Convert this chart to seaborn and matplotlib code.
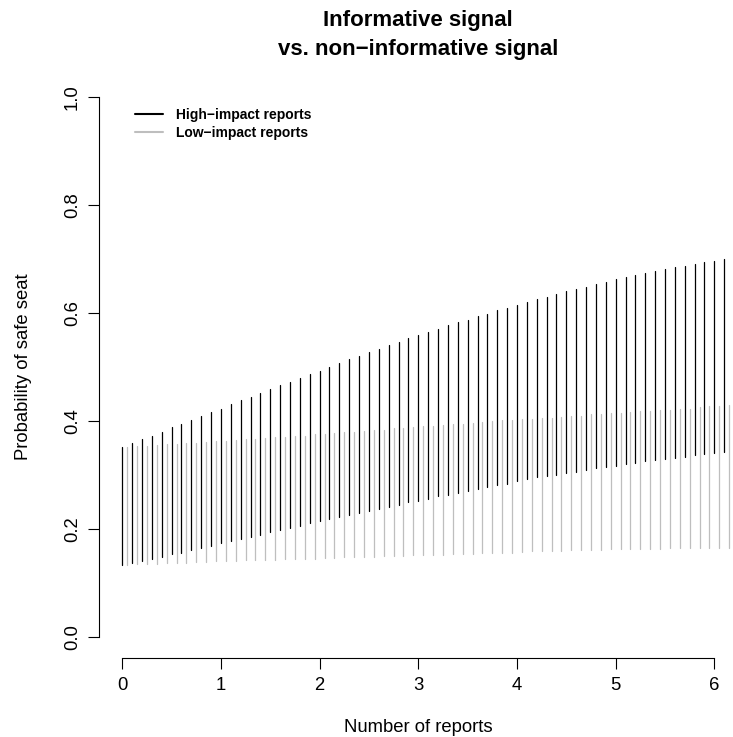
import numpy as np
import pandas as pd
import matplotlib
matplotlib.use("Agg")
import matplotlib.pyplot as plt
import seaborn as sns
from matplotlib.lines import Line2D

# ---------------- data ----------------
n_reports = [0.0, 0.1, 0.2, 0.3, 0.4, 0.5, 0.6, 0.7, 0.8, 0.9,
             1.0, 1.1, 1.2, 1.3, 1.4, 1.5, 1.6, 1.7, 1.8, 1.9,
             2.0, 2.1, 2.2, 2.3, 2.4, 2.5, 2.6, 2.7, 2.8, 2.9,
             3.0, 3.1, 3.2, 3.3, 3.4, 3.5, 3.6, 3.7, 3.8, 3.9,
             4.0, 4.1, 4.2, 4.3, 4.4, 4.5, 4.6, 4.7, 4.8, 4.9,
             5.0, 5.1, 5.2, 5.3, 5.4, 5.5, 5.6, 5.7, 5.8, 5.9,
             6.0, 6.1]

high_upper = [0.352, 0.359, 0.366, 0.373, 0.380, 0.388, 0.395, 0.402, 0.409, 0.416,
              0.423, 0.431, 0.438, 0.445, 0.452, 0.459, 0.467, 0.473, 0.480, 0.487,
              0.493, 0.500, 0.507, 0.514, 0.520, 0.527, 0.533, 0.540, 0.546, 0.553,
              0.559, 0.565, 0.571, 0.577, 0.583, 0.588, 0.594, 0.599, 0.605, 0.610,
              0.615, 0.621, 0.626, 0.630, 0.635, 0.640, 0.645, 0.649, 0.653, 0.658,
              0.663, 0.667, 0.670, 0.674, 0.678, 0.681, 0.685, 0.688, 0.691, 0.694,
              0.697, 0.700]
high_lower = [0.133, 0.136, 0.140, 0.145, 0.148, 0.153, 0.156, 0.161, 0.164, 0.169,
              0.173, 0.177, 0.181, 0.185, 0.189, 0.194, 0.198, 0.202, 0.205, 0.210,
              0.214, 0.218, 0.222, 0.226, 0.230, 0.233, 0.237, 0.241, 0.245, 0.249,
              0.252, 0.256, 0.260, 0.263, 0.267, 0.271, 0.274, 0.278, 0.281, 0.284,
              0.288, 0.292, 0.296, 0.298, 0.300, 0.304, 0.306, 0.309, 0.312, 0.314,
              0.317, 0.320, 0.322, 0.325, 0.327, 0.329, 0.332, 0.334, 0.336, 0.338,
              0.341, 0.342]
low_upper = [0.352, 0.354, 0.354, 0.355, 0.357, 0.357, 0.359, 0.360, 0.361, 0.363,
             0.363, 0.365, 0.366, 0.367, 0.368, 0.370, 0.371, 0.372, 0.373, 0.375,
             0.376, 0.378, 0.379, 0.380, 0.382, 0.383, 0.384, 0.386, 0.387, 0.388,
             0.390, 0.391, 0.392, 0.394, 0.395, 0.396, 0.398, 0.399, 0.401, 0.402,
             0.403, 0.404, 0.405, 0.406, 0.407, 0.409, 0.410, 0.412, 0.413, 0.414,
             0.415, 0.416, 0.418, 0.418, 0.420, 0.421, 0.422, 0.423, 0.425, 0.427,
             0.428, 0.430]
low_lower = [0.133, 0.134, 0.135, 0.135, 0.136, 0.137, 0.137, 0.139, 0.139, 0.140,
             0.140, 0.141, 0.142, 0.142, 0.143, 0.143, 0.144, 0.144, 0.145, 0.145,
             0.146, 0.146, 0.147, 0.147, 0.148, 0.148, 0.149, 0.150, 0.150, 0.151,
             0.151, 0.152, 0.152, 0.153, 0.154, 0.154, 0.155, 0.155, 0.156, 0.156,
             0.157, 0.158, 0.158, 0.159, 0.159, 0.160, 0.160, 0.161, 0.161, 0.162,
             0.162, 0.162, 0.163, 0.163, 0.163, 0.164, 0.164, 0.164, 0.165, 0.165,
             0.165, 0.165]

series_labels = ["High\u2212impact reports", "Low\u2212impact reports"]
series_colors = ["black", "#BEBEBE"]
x_ticks = [0, 1, 2, 3, 4, 5, 6]
y_ticks = [0.0, 0.2, 0.4, 0.6, 0.8, 1.0]
y_ticklabels = ["0.0", "0.2", "0.4", "0.6", "0.8", "1.0"]
title_lines = ["Informative signal", "vs. non\u2212informative signal"]
x_label = "Number of reports"
y_label = "Probability of safe seat"
low_offset = 0.05  # horizontal dodge of the low-impact intervals

# ---------------- build long table: one unit per vertical interval ----------------
rows = []
for i, x in enumerate(n_reports):
    for y in (high_lower[i], high_upper[i]):
        rows.append({"x": x, "y": y, "series": series_labels[0], "seg": f"h{i}"})
    for y in (low_lower[i], low_upper[i]):
        rows.append({"x": x + low_offset, "y": y, "series": series_labels[1], "seg": f"l{i}"})
df = pd.DataFrame(rows)

# ---------------- style ----------------
sns.set_theme(style="white")
plt.rcParams["font.family"] = ["Liberation Sans", "DejaVu Sans"]
plt.rcParams["text.color"] = "black"
plt.rcParams["axes.edgecolor"] = "black"
plt.rcParams["xtick.color"] = "black"
plt.rcParams["ytick.color"] = "black"

W, H = 733, 737
fig = plt.figure(figsize=(W / 100, H / 100), dpi=100)
ax = fig.add_axes([98.6 / W, (H - 658.3) / H, (738 - 98.6) / W, 582.6 / H])

sns.lineplot(data=df, x="x", y="y", hue="series", units="seg", estimator=None,
             sort=False, palette=dict(zip(series_labels, series_colors)),
             linewidth=0.9, legend=False, ax=ax)

ax.set_xlim(-0.24, 6.24)
ax.set_ylim(-0.04, 1.04)
for s in ("top", "right"):
    ax.spines[s].set_visible(False)
ax.spines["left"].set_bounds(0, 1)
ax.spines["bottom"].set_bounds(0, 6)
for s in ("left", "bottom"):
    ax.spines[s].set_linewidth(0.8)
    ax.spines[s].set_color("black")

ax.set_xticks(x_ticks)
ax.set_xticklabels([str(t) for t in x_ticks])
ax.set_yticks(y_ticks)
ax.set_yticklabels(y_ticklabels, rotation=90, va="center")
ax.tick_params(axis="both", which="major", direction="out", length=7.9, width=0.8,
               labelsize=13.3, bottom=True, left=True)
ax.tick_params(axis="x", pad=5.5)
ax.tick_params(axis="y", pad=4.8)
ax.set_xlabel("")
ax.set_ylabel("")
ax.grid(False)

# axis titles
fig.text(418 / W, 1 - 732 / H, x_label, ha="center", va="baseline", fontsize=13.3)
fig.text(24 / W, 1 - 367 / H, y_label, ha="center", va="center", rotation=90, fontsize=13.3)

# main title (two lines)
fig.text(418 / W, 1 - 26 / H, title_lines[0], ha="center", va="baseline",
         fontsize=16, fontweight="bold")
fig.text(418 / W, 1 - 55 / H, title_lines[1], ha="center", va="baseline",
         fontsize=16, fontweight="bold")

# legend
handles = [Line2D([], [], color=c, lw=1.5) for c in series_colors]
ax.legend(handles, series_labels, loc="upper left",
          bbox_to_anchor=(135 / W, 1 - 107.5 / H), bbox_transform=fig.transFigure,
          frameon=False, borderpad=0, borderaxespad=0, handlelength=2.0,
          handletextpad=0.98, labelspacing=0.34,
          prop={"weight": "bold", "size": 10})

fig.savefig("out.png", dpi=100)
